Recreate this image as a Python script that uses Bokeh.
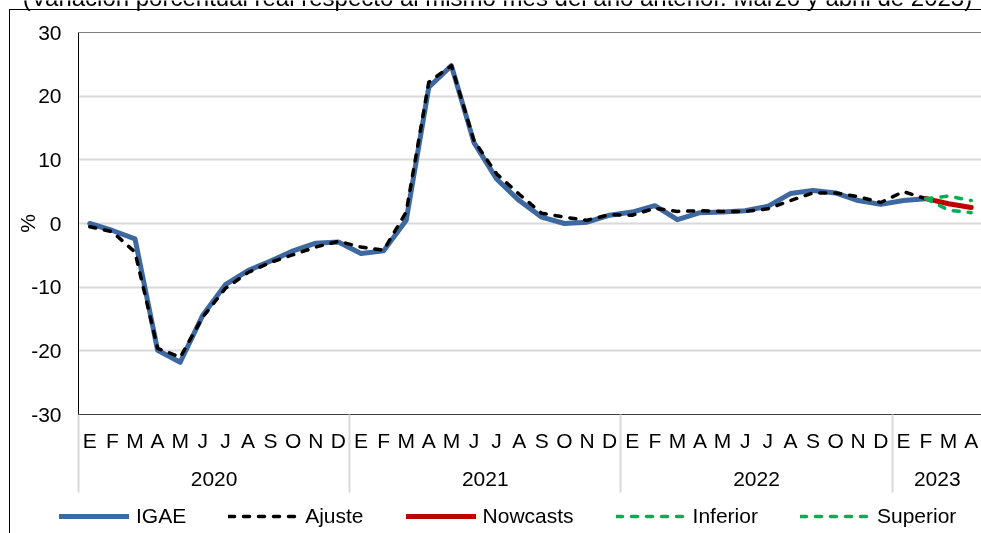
import math
from bokeh.plotting import figure
from bokeh.models import (FixedTicker, Span, Legend, LegendItem, Range1d, LinearAxis, Label)
from bokeh.embed import file_html
from bokeh.resources import INLINE

# ---------------- data ----------------
meses = ["E", "F", "M", "A", "M", "J", "J", "A", "S", "O", "N", "D"] * 3 + ["E", "F", "M", "A"]
anios = ["2020", "2021", "2022", "2023"]
anios_centro = [5.5, 17.5, 29.5, 37.5]
separadores = [-0.5, 11.5, 23.5, 35.5]

igae = [0.0, -1.1, -2.4, -19.9, -21.8, -14.4, -9.6, -7.4, -5.9, -4.3, -3.1, -2.9,
        -4.7, -4.3, 0.5, 21.4, 24.8, 12.7, 7.0, 3.6, 1.0, 0.0, 0.2, 1.3,
        1.8, 2.8, 0.6, 1.7, 1.8, 2.0, 2.7, 4.7, 5.2, 4.8, 3.6, 3.0,
        3.6, 3.9]
ajuste = [-0.5, -1.3, -4.5, -19.6, -21.0, -14.7, -10.2, -7.7, -6.1, -4.9, -3.7, -2.8,
          -3.7, -4.2, 1.8, 22.2, 24.8, 13.0, 7.8, 4.6, 1.6, 1.0, 0.5, 1.4,
          1.3, 2.4, 1.9, 2.0, 1.9, 1.9, 2.3, 3.6, 4.8, 4.8, 4.2, 3.3,
          5.0, 3.9]
nowcasts = [3.9, 3.1, 2.5]
inferior = [3.9, 2.1, 1.7]
superior = [3.9, 4.3, 3.6]
y_ticks = [-30, -20, -10, 0, 10, 20, 30]
y_grid = [-20, -10, 0, 10, 20]
titulo = "(Variación porcentual real respecto al mismo mes del año anterior. Marzo y abril de 2023)"
series = ["IGAE", "Ajuste", "Nowcasts", "Inferior", "Superior"]

x_hist = list(range(len(igae)))
x_now = list(range(len(igae) - 1, len(igae) - 1 + len(nowcasts)))
x_all = list(range(len(meses)))

FONT = "Liberation Sans"
FS = "21px"

# series styles
S_IGAE = dict(line_color="#3D69A0", line_width=5, line_cap="round", line_join="round")
S_AJ = dict(line_color="black", line_width=3.5, line_dash="6 9", line_cap="round", line_join="round")
S_NOW = dict(line_color="#C00000", line_width=5, line_cap="round", line_join="round")
S_BAND = dict(line_color="#00B050", line_width=3.5, line_dash="6 9", line_cap="round", line_join="round")

# ---------------- main chart ----------------
# canvas origin sits at page (-30, -30); the chart continues past the window edges
OFF = 30
W, H = 1060, 610
FL, FT, FR, FB = 78 + OFF, 32 + OFF, 982 + OFF, 414 + OFF
p = figure(width=W, height=H, output_backend="svg", toolbar_location=None,
           x_range=Range1d(-0.5, 39.5), y_range=Range1d(-30, 30),
           min_border_left=FL, min_border_right=W - FR, min_border_top=FT,
           min_border_bottom=H - FB)
p.styles = {"position": "fixed", "left": f"-{OFF}px", "top": f"-{OFF}px",
            "outline": "1px solid black", "outline-offset": f"-{OFF + 10}px"}
p.outline_line_color = None
p.background_fill_color = "white"
p.border_fill_color = None

# x axis 1: months
xa = p.xaxis[0]
xa.ticker = FixedTicker(ticks=x_all)
xa.major_label_overrides = {i: m for i, m in enumerate(meses)}
xa.major_tick_line_color = None
xa.major_tick_out = 0
xa.major_tick_in = 0
xa.minor_tick_line_color = None
xa.minor_tick_out = 0
xa.minor_tick_in = 0
xa.axis_line_color = "#404040"
xa.axis_line_width = 1
xa.major_label_text_font = FONT
xa.major_label_text_font_size = FS
xa.major_label_text_color = "black"
xa.major_label_standoff = 14

# x axis 2: years
xa2 = LinearAxis(ticker=FixedTicker(ticks=anios_centro),
                 major_label_overrides={c: a for c, a in zip(anios_centro, anios)},
                 axis_line_color=None, major_tick_line_color=None, major_tick_out=0,
                 major_tick_in=0, minor_tick_line_color=None, minor_tick_out=0,
                 minor_tick_in=0, major_label_standoff=17,
                 major_label_text_font=FONT, major_label_text_font_size=FS,
                 major_label_text_color="black")
p.add_layout(xa2, "below")

# x axis 3: year separators reaching up to the plot area
xa3 = LinearAxis(ticker=FixedTicker(ticks=[], minor_ticks=separadores),
                 axis_line_color=None, major_tick_line_color=None, major_tick_out=0,
                 major_tick_in=0, minor_tick_line_color="#d9d9d9",
                 minor_tick_line_width=2, minor_tick_in=74, minor_tick_out=4,
                 major_label_text_font_size="0px")
p.add_layout(xa3, "below")

# y axis
ya = p.yaxis[0]
ya.ticker = FixedTicker(ticks=y_ticks)
ya.major_label_overrides = {t: str(t) for t in y_ticks}
ya.major_tick_line_color = None
ya.major_tick_out = 0
ya.minor_tick_line_color = None
ya.minor_tick_out = 0
ya.axis_line_color = "black"
ya.major_label_text_font = FONT
ya.major_label_text_font_size = FS
ya.major_label_text_color = "black"
ya.major_label_standoff = 17

p.xgrid.visible = False
p.ygrid.ticker = FixedTicker(ticks=y_grid)
p.ygrid.grid_line_color = "#d9d9d9"
p.ygrid.grid_line_width = 2

p.add_layout(Span(location=30, dimension="width", line_color="black", line_width=1))

p.line(x_hist, igae, **S_IGAE)
p.line(x_hist, ajuste, **S_AJ)
p.line(x_now, nowcasts, **S_NOW)
p.line(x_now, inferior, **S_BAND)
p.line(x_now, superior, **S_BAND)

# ---------------- overlay: title, y label, legend ----------------
VW, VH = 981, 533
o = figure(width=VW, height=VH, output_backend="svg", toolbar_location=None,
           x_range=Range1d(0, VW), y_range=Range1d(VH, 0),
           x_axis_type=None, y_axis_type=None, min_border=0)
o.styles = {"position": "fixed", "left": "0px", "top": "0px"}
o.outline_line_color = None
o.background_fill_color = None
o.border_fill_color = None
o.grid.visible = False

o.add_layout(Label(x=497, y=-3, text=titulo, text_align="center",
                   text_baseline="alphabetic", text_font=FONT,
                   text_font_size="24px", text_color="black"))
o.add_layout(Label(x=26.5, y=223, text="%", angle=math.pi / 2, text_align="center",
                   text_baseline="middle", text_font=FONT, text_font_size=FS,
                   text_color="black"))

# legend-only renderers (a single NaN point, so nothing is drawn in the overlay)
nan = float("nan")
styles = [S_IGAE, S_AJ, S_NOW, S_BAND, S_BAND]
items = []
for name, st in zip(series, styles):
    r = o.line([nan], [nan], **st)
    items.append(LegendItem(label=name, renderers=[r]))
legend = Legend(items=items, orientation="horizontal", location=(59, VH - 528),
                glyph_width=70, glyph_height=20, label_height=20,
                label_standoff=7, spacing=42, padding=0, margin=0,
                border_line_color=None, background_fill_alpha=0,
                label_text_font=FONT, label_text_font_size=FS,
                label_text_color="black")
o.add_layout(legend, "center")

open("out.html", "w").write(file_html([p, o], INLINE))
